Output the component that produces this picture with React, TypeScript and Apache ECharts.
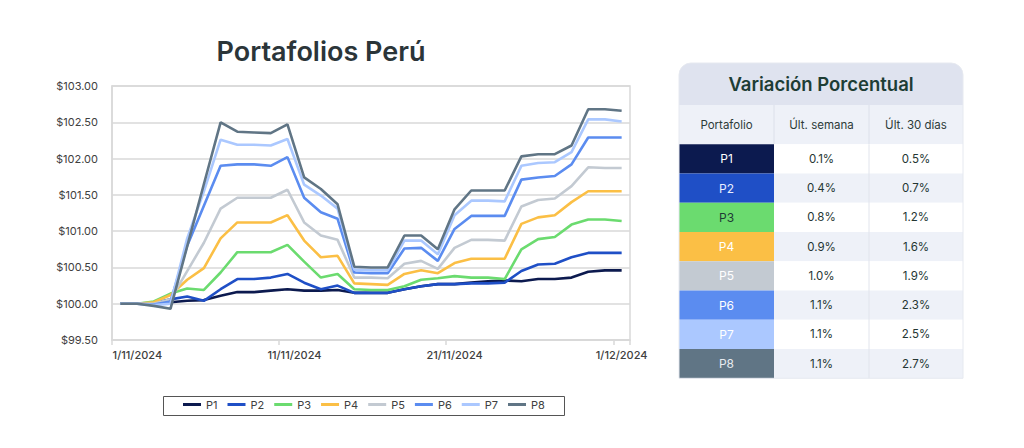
import React, { useEffect, useRef } from "react";
import * as echarts from "echarts";

const dates: string[] = [
  ...Array.from({ length: 30 }, (_, i) => `${i + 1}/11/2024`),
  "1/12/2024",
];

const seriesNames = ["P1", "P2", "P3", "P4", "P5", "P6", "P7", "P8"];
const seriesColors = ["#0c1a4f", "#1f4fc6", "#6bdb6f", "#fbbf45", "#c3cad2", "#5b8cf0", "#abc8ff", "#607585"];

const p1 = [100.0, 100.0, 100.01, 100.02, 100.04, 100.05, 100.11, 100.16, 100.16, 100.18, 100.2, 100.18, 100.18, 100.19, 100.15, 100.15, 100.15, 100.2, 100.24, 100.27, 100.27, 100.29, 100.31, 100.32, 100.31, 100.34, 100.34, 100.36, 100.44, 100.46, 100.46];
const p2 = [100.0, 100.0, 100.01, 100.06, 100.1, 100.04, 100.2, 100.34, 100.34, 100.36, 100.41, 100.29, 100.2, 100.25, 100.15, 100.15, 100.15, 100.2, 100.24, 100.27, 100.27, 100.28, 100.28, 100.29, 100.45, 100.54, 100.55, 100.64, 100.7, 100.7, 100.7];
const p3 = [100.0, 100.0, 100.03, 100.14, 100.21, 100.19, 100.43, 100.71, 100.71, 100.71, 100.81, 100.58, 100.36, 100.41, 100.2, 100.19, 100.19, 100.24, 100.33, 100.35, 100.38, 100.36, 100.36, 100.34, 100.75, 100.89, 100.92, 101.09, 101.16, 101.16, 101.14];
const p4 = [100.0, 100.0, 100.02, 100.12, 100.33, 100.49, 100.9, 101.12, 101.12, 101.12, 101.22, 100.87, 100.64, 100.66, 100.28, 100.27, 100.26, 100.41, 100.46, 100.42, 100.56, 100.62, 100.62, 100.62, 101.1, 101.19, 101.22, 101.4, 101.55, 101.55, 101.55];
const p5 = [100.0, 100.0, 100.0, 100.06, 100.45, 100.84, 101.31, 101.46, 101.46, 101.46, 101.57, 101.12, 100.94, 100.88, 100.36, 100.36, 100.35, 100.55, 100.59, 100.48, 100.77, 100.88, 100.88, 100.87, 101.34, 101.43, 101.45, 101.62, 101.88, 101.87, 101.87];
const p6 = [100.0, 100.0, 99.99, 100.03, 100.8, 101.35, 101.9, 101.92, 101.92, 101.9, 102.02, 101.46, 101.26, 101.17, 100.43, 100.42, 100.42, 100.76, 100.77, 100.59, 101.03, 101.21, 101.21, 101.21, 101.71, 101.74, 101.76, 101.92, 102.29, 102.29, 102.29];
const p7 = [100.0, 100.0, 99.98, 100.0, 100.9, 101.55, 102.26, 102.19, 102.19, 102.18, 102.27, 101.64, 101.49, 101.31, 100.47, 100.46, 100.46, 100.87, 100.87, 100.68, 101.22, 101.42, 101.42, 101.41, 101.9, 101.94, 101.95, 102.09, 102.54, 102.54, 102.51];
const p8 = [100.0, 100.0, 99.97, 99.93, 100.79, 101.65, 102.5, 102.37, 102.36, 102.35, 102.47, 101.74, 101.58, 101.37, 100.51, 100.5, 100.5, 100.94, 100.94, 100.75, 101.3, 101.56, 101.56, 101.56, 102.03, 102.06, 102.06, 102.18, 102.68, 102.68, 102.66];
const seriesData = [p1, p2, p3, p4, p5, p6, p7, p8];

const chartTitle = "Portafolios Perú";
const tableTitle = "Variación Porcentual";
const tableHeaders = ["Portafolio", "Últ. semana", "Últ. 30 días"];
const weekChange = [0.1, 0.4, 0.8, 0.9, 1.0, 1.1, 1.1, 1.1];
const monthChange = [0.5, 0.7, 1.2, 1.6, 1.9, 2.3, 2.5, 2.7];
const cellTextColors = ["#ffffff", "#e8edff", "#1f3b36", "#ffffff", "#ffffff", "#ffffff", "#ffffff", "#e6eaef"];

const FONT = "Inter, 'Noto Sans', sans-serif";

export default function App() {
  const ref = useRef<HTMLDivElement>(null);
  useEffect(() => {
    const chart = echarts.init(ref.current!, null, { renderer: "svg" });

    const tX = 679;
    const tW = 284;
    const c1 = 774;
    const c2 = 869;
    const rowTop = 144.3;
    const rowH = 29.25;

    const graphics: any[] = [
      {
        type: "text",
        x: 321,
        y: 51,
        style: {
          text: chartTitle,
          font: `600 27px ${FONT}`,
          fill: "#2b3539",
          align: "center",
          verticalAlign: "middle",
        },
      },
      {
        type: "rect",
        shape: { x: 163.5, y: 396.5, width: 401, height: 19 },
        style: { fill: "none", stroke: "#555555", lineWidth: 1 },
      },
      {
        type: "rect",
        shape: { x: tX, y: 63, width: tW, height: 42, r: [12, 12, 0, 0] },
        style: { fill: "#dfe3ef" },
      },
      {
        type: "text",
        x: tX + tW / 2,
        y: 84,
        style: {
          text: tableTitle,
          font: `600 18.5px ${FONT}`,
          fill: "#1d3d35",
          align: "center",
          verticalAlign: "middle",
        },
      },
      {
        type: "rect",
        shape: { x: tX, y: 105, width: tW, height: rowTop - 105 },
        style: { fill: "#eef1f8" },
      },
      {
        type: "line",
        shape: { x1: c1, y1: 105, x2: c1, y2: rowTop },
        style: { stroke: "#dce0ea", lineWidth: 1 },
      },
      {
        type: "line",
        shape: { x1: c2, y1: 105, x2: c2, y2: rowTop },
        style: { stroke: "#dce0ea", lineWidth: 1 },
      },
    ];

    const colCenters = [(tX + c1) / 2, (c1 + c2) / 2, (c2 + tX + tW) / 2];
    tableHeaders.forEach((h, i) => {
      graphics.push({
        type: "text",
        x: colCenters[i],
        y: (105 + rowTop) / 2,
        style: {
          text: h,
          font: `400 11.5px ${FONT}`,
          fill: "#2d3b38",
          align: "center",
          verticalAlign: "middle",
        },
      });
    });

    seriesNames.forEach((name, i) => {
      const y = rowTop + rowH * i;
      graphics.push({
        type: "rect",
        shape: { x: c1, y, width: tX + tW - c1, height: rowH },
        style: { fill: i % 2 === 0 ? "#ffffff" : "#eef1f8" },
      });
      graphics.push({
        type: "rect",
        shape: { x: tX, y, width: c1 - tX, height: rowH },
        style: { fill: seriesColors[i] },
      });
      graphics.push({
        type: "text",
        x: colCenters[0],
        y: y + rowH / 2,
        style: {
          text: name,
          font: `400 12px ${FONT}`,
          fill: cellTextColors[i],
          align: "center",
          verticalAlign: "middle",
        },
      });
      graphics.push({
        type: "text",
        x: colCenters[1],
        y: y + rowH / 2,
        style: {
          text: `${weekChange[i].toFixed(1)}%`,
          font: `400 11.5px ${FONT}`,
          fill: "#243532",
          align: "center",
          verticalAlign: "middle",
        },
      });
      graphics.push({
        type: "text",
        x: colCenters[2],
        y: y + rowH / 2,
        style: {
          text: `${monthChange[i].toFixed(1)}%`,
          font: `400 11.5px ${FONT}`,
          fill: "#243532",
          align: "center",
          verticalAlign: "middle",
        },
      });
    });
    graphics.push({
      type: "line",
      shape: { x1: c2, y1: rowTop, x2: c2, y2: rowTop + rowH * 8 },
      style: { stroke: "#e1e4ec", lineWidth: 1 },
    });
    graphics.push({
      type: "rect",
      shape: { x: tX, y: 63, width: tW, height: rowTop + rowH * 8 - 63, r: [12, 12, 0, 0] },
      style: { fill: "none", stroke: "#e6e9f0", lineWidth: 1 },
    });

    const option: any = {
      animation: false,
      backgroundColor: "#ffffff",
      textStyle: { fontFamily: FONT },
      grid: {
        left: 112,
        right: 1024 - 630,
        top: 86,
        bottom: 448 - 340,
        show: true,
        borderColor: "#d9d9d9",
        borderWidth: 1.5,
      },
      legend: {
        data: seriesNames,
        left: 183,
        top: 399,
        itemWidth: 18,
        itemHeight: 3,
        itemGap: 10,
        icon: "rect",
        padding: 0,
        textStyle: { fontSize: 11, color: "#404040", fontFamily: FONT },
      },
      xAxis: {
        type: "category",
        data: dates,
        boundaryGap: true,
        axisLine: { show: true, lineStyle: { color: "#d9d9d9", width: 1.5 } },
        axisTick: {
          show: true,
          interval: (idx: number) => idx % 10 === 0,
          length: 5,
          lineStyle: { color: "#d9d9d9", width: 1.5 },
        },
        axisLabel: {
          interval: (idx: number) => idx % 10 === 0,
          margin: 9,
          fontSize: 11,
          fontWeight: 500,
          color: "#404040",
          fontFamily: FONT,
          formatter: (v: string, idx: number) =>
            idx === 0 ? `{a|${v}}` : idx === 10 ? `{b|${v}}` : v,
          rich: {
            a: { padding: [0, 0, 0, 34], fontSize: 11, fontWeight: 500, color: "#404040", fontFamily: FONT },
            b: { padding: [0, 0, 0, 14], fontSize: 11, fontWeight: 500, color: "#404040", fontFamily: FONT },
          },
        },
        splitLine: { show: false },
      },
      yAxis: {
        type: "value",
        min: 99.5,
        max: 103,
        interval: 0.5,
        axisLine: { show: true, lineStyle: { color: "#d9d9d9", width: 1.5 } },
        axisTick: { show: false },
        axisLabel: {
          margin: 14,
          fontSize: 11,
          color: "#404040",
          fontFamily: FONT,
          formatter: (v: number) => `$${v.toFixed(2)}`,
        },
        splitLine: { show: true, lineStyle: { color: "#d9d9d9", width: 1.5 } },
      },
      series: seriesNames.map((name, i) => ({
        name,
        type: "line",
        data: seriesData[i],
        symbol: "none",
        color: seriesColors[i],
        lineStyle: { width: 2.6, color: seriesColors[i] },
      })),
      graphic: graphics,
    };

    chart.setOption(option);
    return () => chart.dispose();
  }, []);

  return (
    <div
      ref={ref}
      style={{ position: "absolute", left: 0, top: 0, width: 1024, height: 448, background: "#ffffff" }}
    />
  );
}
